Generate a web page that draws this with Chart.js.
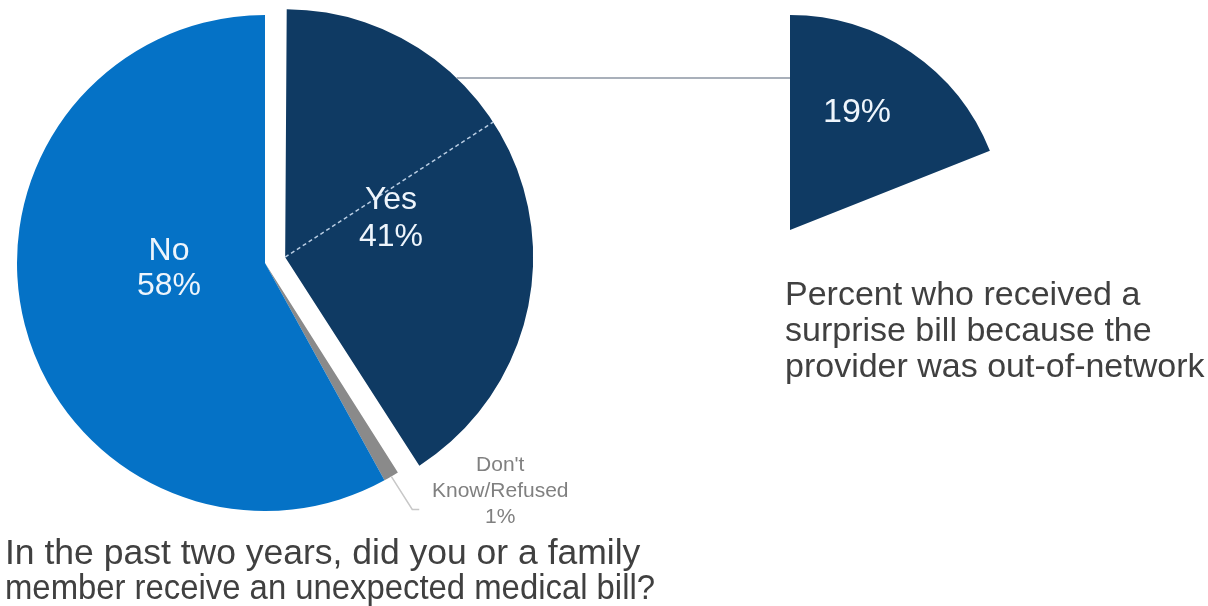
<!DOCTYPE html>
<html>
<head>
<meta charset="utf-8">
<script src="https://cdn.jsdelivr.net/npm/chart.js@4.4.0/dist/chart.umd.min.js"></script>
<style>
  body { margin: 0; background: #fff; }
  .wrap { position: relative; width: 1208px; height: 606px; }
  canvas { position: absolute; left: 0; top: 0; }
</style>
</head>
<body>
<div class="wrap">
  <canvas id="mainPie" width="1208" height="606"></canvas>
  <canvas id="detailPie" width="1208" height="606"></canvas>
</div>
<script>
// survey answers
const categories = ['Yes', "Don't Know/Refused", 'No'];
const shares = [41, 1, 58];
const sliceText = [['Yes', '41%'], ["Don't", 'Know/Refused', '1%'], ['No', '58%']];

// out-of-network breakdown
const detailCategories = ['Out-of-network', 'Other'];
const detailShares = [19, 81];

const question = ['In the past two years, did you or a family', 'member receive an unexpected medical bill?'];
const detailCaption = ['Percent who received a', 'surprise bill because the', 'provider was out-of-network'];

const FONT = "'Liberation Sans', Arial, sans-serif";
const NAVY = '#0f3a63';
const BLUE = '#0572c6';
const GREY = '#8a8a8a';
const LABEL = '#eef5fc';

// chart.js v4 arc: translates by offset/4, grows radius by offset/4 * fix
function arcFix(arc) {
  return 1 - Math.sin(Math.min(Math.PI, arc.circumference));
}

function explodedCenter(arc) {
  const d = (arc.options.offset || 0) / 4;
  const mid = (arc.startAngle + arc.endAngle) / 2;
  return { x: arc.x + Math.cos(mid) * d, y: arc.y + Math.sin(mid) * d };
}

function drawLines(ctx, lines, x, y, pitch, widths) {
  lines.forEach((t, i) => {
    if (widths && widths[i]) ctx.fillText(t, x, y + i * pitch, widths[i]);
    else ctx.fillText(t, x, y + i * pitch);
  });
}

// keep exploded slice same radius as the others
const trimOffsetRadius = {
  id: 'trimOffsetRadius',
  afterUpdate(chart) {
    chart.getDatasetMeta(0).data.forEach(arc => {
      arc.outerRadius -= (arc.options.offset || 0) / 4 * arcFix(arc);
    });
  }
};

const mainAnnotations = {
  id: 'mainAnnotations',
  afterDatasetsDraw(chart) {
    const ctx = chart.ctx;
    const arcs = chart.getDatasetMeta(0).data;
    const yes = arcs[0], dk = arcs[1], no = arcs[2];
    const p = explodedCenter(yes);
    const r = no.outerRadius;
    ctx.save();

    // dashed divider in the Yes slice
    const a = -Math.PI / 2 + 57 * Math.PI / 180;
    ctx.strokeStyle = '#b9cde3';
    ctx.lineWidth = 1.5;
    ctx.setLineDash([4, 3]);
    ctx.beginPath();
    ctx.moveTo(p.x, p.y);
    ctx.lineTo(p.x + Math.cos(a) * r, p.y + Math.sin(a) * r);
    ctx.stroke();
    ctx.setLineDash([]);

    // slice labels
    ctx.fillStyle = LABEL;
    ctx.font = '32px ' + FONT;
    ctx.textAlign = 'center';
    ctx.textBaseline = 'alphabetic';
    drawLines(ctx, sliceText[0], yes.x + 126, yes.y - 54, 37);
    drawLines(ctx, sliceText[2], no.x - 96, no.y - 3, 35);

    // don't know leader + label
    const dm = (dk.startAngle + dk.endAngle) / 2;
    const sx = dk.x + Math.cos(dm) * dk.outerRadius;
    const sy = dk.y + Math.sin(dm) * dk.outerRadius;
    ctx.strokeStyle = '#c8c8c8';
    ctx.lineWidth = 1.5;
    ctx.beginPath();
    ctx.moveTo(sx, sy);
    ctx.lineTo(sx + 21, sy + 33);
    ctx.lineTo(sx + 28, sy + 33);
    ctx.stroke();
    ctx.fillStyle = '#808080';
    ctx.font = '21px ' + FONT;
    drawLines(ctx, sliceText[1], sx + 109, sy - 5, 26);

    // question under the pie
    ctx.fillStyle = '#404040';
    ctx.font = '35.5px ' + FONT;
    ctx.textAlign = 'left';
    drawLines(ctx, question, 5, 564, 35, [null, 650]);
    ctx.restore();
  }
};

const mainChart = new Chart(document.getElementById('mainPie'), {
  type: 'pie',
  data: {
    labels: categories,
    datasets: [{
      data: shares,
      backgroundColor: [NAVY, GREY, BLUE],
      borderWidth: 0,
      offset: [84, 0, 0]
    }]
  },
  options: {
    responsive: false,
    animation: false,
    radius: 248,
    layout: { padding: { left: 0, top: 0, right: 678, bottom: 80 } },
    plugins: { legend: { display: false }, tooltip: { enabled: false } }
  },
  plugins: [trimOffsetRadius, mainAnnotations]
});

const detailAnnotations = {
  id: 'detailAnnotations',
  afterDatasetsDraw(chart) {
    const ctx = chart.ctx;
    const arc = chart.getDatasetMeta(0).data[0];
    const meta = mainChart.getDatasetMeta(0).data;
    const p = explodedCenter(meta[0]);
    const r = meta[2].outerRadius;
    ctx.save();

    // connector from the Yes slice to the breakdown wedge
    const ly = 78;
    const lx = p.x + Math.sqrt(r * r - (ly - p.y) * (ly - p.y));
    ctx.strokeStyle = '#8c96a3';
    ctx.lineWidth = 1.5;
    ctx.beginPath();
    ctx.moveTo(lx, ly);
    ctx.lineTo(arc.x, ly);
    ctx.stroke();

    ctx.fillStyle = LABEL;
    ctx.font = '34px ' + FONT;
    ctx.textAlign = 'center';
    ctx.fillText(detailShares[0] + '%', arc.x + 67, arc.y - 108);

    ctx.fillStyle = '#404040';
    ctx.font = '34px ' + FONT;
    ctx.textAlign = 'left';
    drawLines(ctx, detailCaption, arc.x - 5, 305, 36);
    ctx.restore();
  }
};

new Chart(document.getElementById('detailPie'), {
  type: 'pie',
  data: {
    labels: detailCategories,
    datasets: [{
      data: detailShares,
      backgroundColor: [NAVY, 'rgba(0,0,0,0)'],
      borderWidth: 0
    }]
  },
  options: {
    responsive: false,
    animation: false,
    radius: 215,
    layout: { padding: { left: 575, top: 15, right: 203, bottom: 161 } },
    plugins: { legend: { display: false }, tooltip: { enabled: false } }
  },
  plugins: [detailAnnotations]
});
</script>
</body>
</html>
